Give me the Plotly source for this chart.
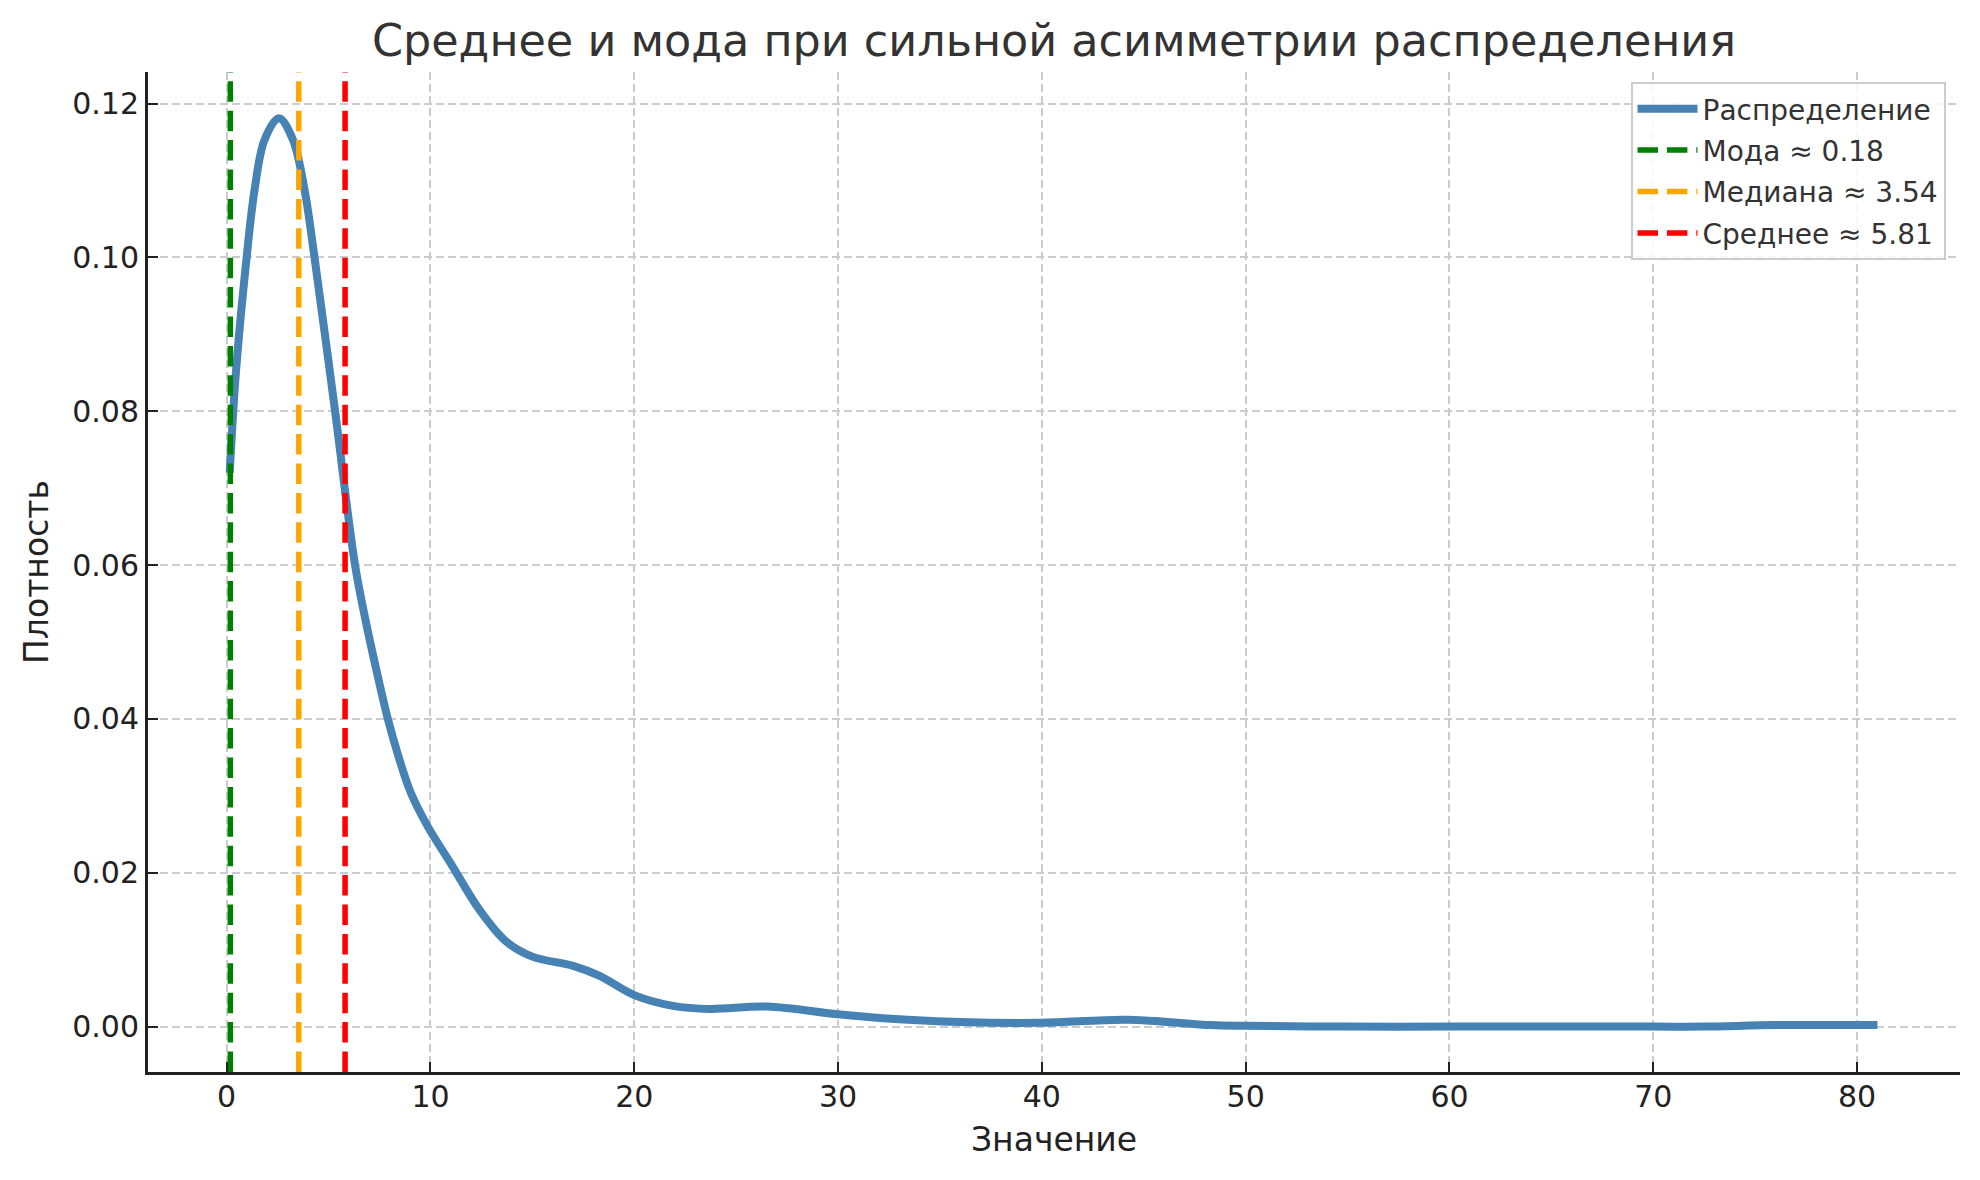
import plotly.graph_objects as go

# ---- data ----
curve_x = [0.15, 0.45, 0.98, 1.37, 1.86, 2.56, 3.25, 3.82, 4.31, 5.32, 6.3, 6.88, 7.42,
           7.91, 8.48, 9.05, 9.87, 11.0, 12.4, 13.7, 15.0, 17.0, 18.3, 20.0, 21.9, 23.7,
           26.5, 30.0, 32.2, 36.0, 40.0, 44.2, 48.3, 50.0, 55.0, 60.0, 65.0, 70.0, 72.5,
           76.0, 81.0]
curve_y = [0.072, 0.0849, 0.100, 0.1088, 0.1153, 0.1181, 0.1153, 0.1088, 0.100, 0.080,
           0.060, 0.052, 0.0455, 0.040, 0.0347, 0.0303, 0.026, 0.0212, 0.0152, 0.0111,
           0.0091, 0.0079, 0.0066, 0.0041, 0.0027, 0.0023, 0.0026, 0.0016, 0.0011, 0.0006,
           0.0005, 0.0009, 0.0002, 0.0001, 0.0, 0.0, 0.0, 0.0, 0.0, 0.0002, 0.0002]

stat_names = ["Мода", "Медиана", "Среднее"]
stat_values = [0.18, 3.54, 5.81]
stat_colors = ["#008000", "#ffa500", "#ff0000"]

x_ticks = [0, 10, 20, 30, 40, 50, 60, 70, 80]
y_ticks = [0.00, 0.02, 0.04, 0.06, 0.08, 0.10, 0.12]

x_range = [-3.86, 85.05]
y_range = [-0.0059, 0.1241]

FONT = "DejaVu Sans"

fig = go.Figure()
fig.add_trace(go.Scatter(
    x=curve_x, y=curve_y, mode="lines", name="Распределение", legendgroup="g0",
    line=dict(color="#4682b4", width=8, shape="spline", smoothing=1.0),
))
for i, (name, v, c) in enumerate(zip(stat_names, stat_values, stat_colors)):
    fig.add_trace(go.Scatter(
        x=[v, v], y=y_range, mode="lines", name=f"{name} ≈ {v:.2f}",
        legendgroup=f"g{i + 1}",
        line=dict(color=c, width=5.5, dash="20.5px,8.9px"),
    ))

axis_common = dict(
    showline=True, linecolor="#222222", linewidth=3,
    ticks="inside", ticklen=10, tickwidth=2.2, tickcolor="#222222",
    showgrid=True, gridcolor="#cccccc", gridwidth=2, griddash="8px,4px",
    zeroline=False, mirror=False,
    tickfont=dict(family=FONT, size=30, color="#222222"),
    title_font=dict(family=FONT, size=33, color="#222222"),
)

fig.update_layout(
    width=1980, height=1180,
    margin=dict(l=148, r=20, t=72, b=108),
    paper_bgcolor="white", plot_bgcolor="white",
    title=dict(text="Среднее и мода при сильной асимметрии распределения",
               x=(148 + 1960) / 2 / 1980, xanchor="center",
               y=1 - 40 / 1180, yanchor="middle", yref="container",
               font=dict(family=FONT, size=44.5, color="#333333")),
    xaxis=dict(range=x_range, tickvals=x_ticks, ticklabelstandoff=-4,
               title=dict(text="Значение", standoff=15), **axis_common),
    yaxis=dict(range=y_range, tickvals=y_ticks, tickformat=".2f", ticklabelstandoff=0,
               title=dict(text="Плотность", standoff=14), **axis_common),
    legend=dict(x=0.992, xanchor="right", y=0.99, yanchor="top",
                bgcolor="rgba(255,255,255,0.85)", bordercolor="#cccccc", borderwidth=2,
                font=dict(family=FONT, size=28, color="#333333"),
                itemwidth=60, tracegroupgap=2),
    showlegend=True,
)

fig.write_html("out.html")
